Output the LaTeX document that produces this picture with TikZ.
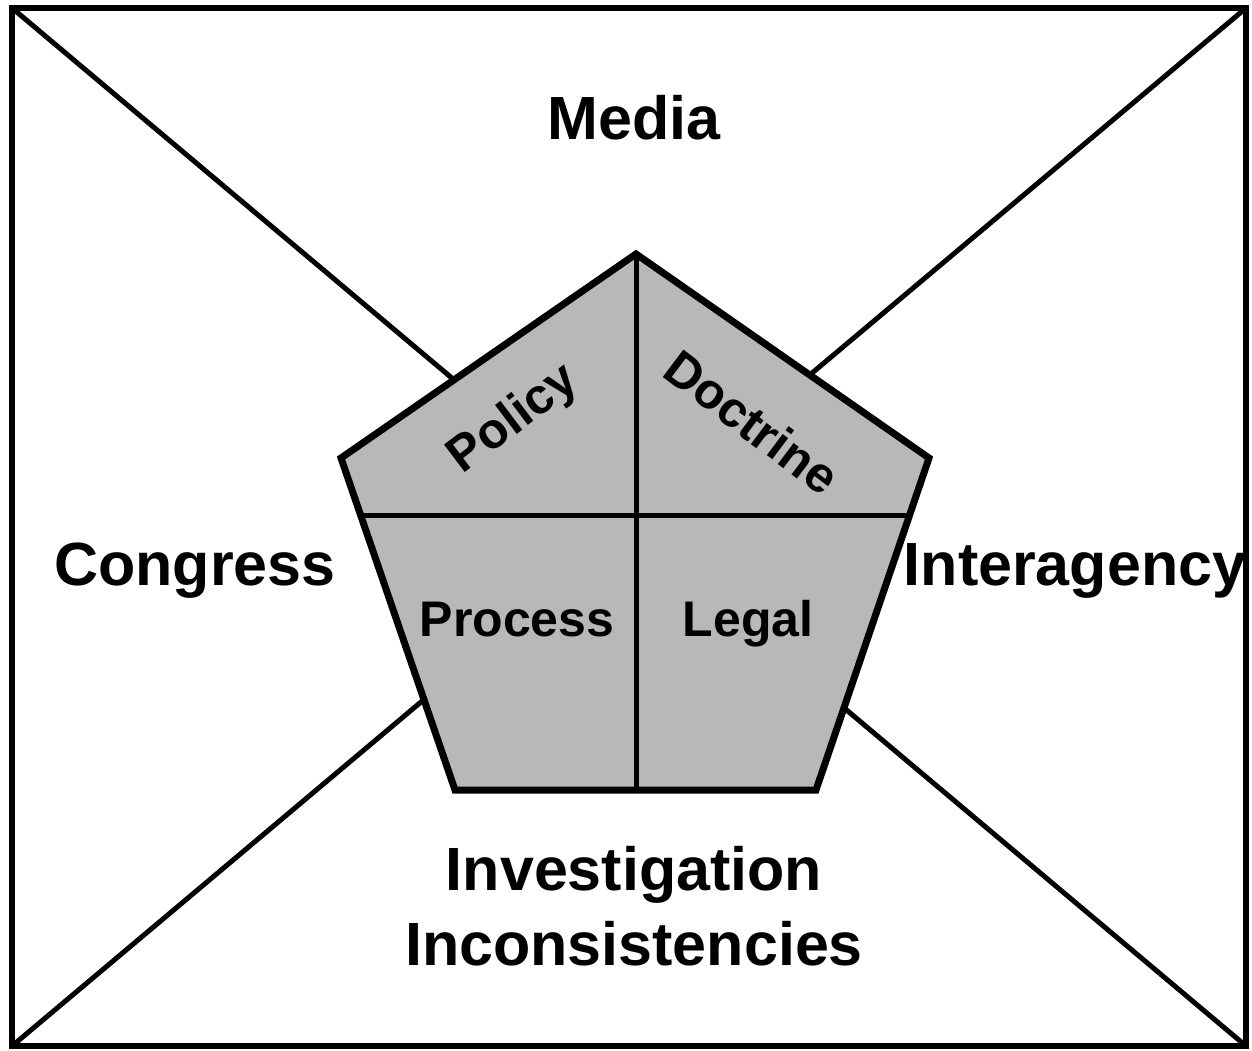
\documentclass[tikz,border=0pt]{standalone}
\usepackage{fontspec}
\setmainfont{Liberation Sans}
\begin{document}
\begin{tikzpicture}[x=1pt,y=-1pt,
  frame/.style={line width=6pt,line join=miter},
  diag/.style={line width=5pt},
  penta/.style={line width=7pt,fill=black!28,line join=miter},
  divider/.style={line width=5pt},
  big/.style={font=\fontsize{61}{72}\selectfont\bfseries,inner sep=0pt},
  small/.style={font=\fontsize{50}{60}\selectfont\bfseries,inner sep=0pt}]
\useasboundingbox (0,0) rectangle (1252,1051);
% frame corners
\coordinate (tl) at (12,8);
\coordinate (tr) at (1246,8);
\coordinate (br) at (1246,1046);
\coordinate (bl) at (12,1046);
\draw[diag] (tl) -- (br);
\draw[diag] (tr) -- (bl);
\draw[frame] (tl) -- (tr) -- (br) -- (bl) -- cycle;
% pentagon
\coordinate (T) at (636,254);
\coordinate (UL) at (341,458);
\coordinate (UR) at (929,458);
\coordinate (LR) at (816,790);
\coordinate (LL) at (455,790);
\coordinate (ML) at (360.6,515);
\coordinate (MR) at (909.6,515);
\coordinate (B) at (636,790);
\draw[penta] (T) -- (UR) -- (LR) -- (LL) -- (UL) -- cycle;
\draw[divider] (ML) -- (MR);
\draw[divider] (T) -- (B);
% labels
\node[big,anchor=base] (media) at (634,140) {Media};
\node[big,anchor=base] (congress) at (195,585) {Congress};
\node[big,anchor=base] (inter) at (1075,585) {Interagency};
\node[big,anchor=base] (inv) at (634,890) {Investigation};
\node[big,anchor=base] (inc) at (634,965) {Inconsistencies};
\node[small,anchor=base] (process) at (517,636) {Process};
\node[small,anchor=base] (legal) at (748,636) {Legal};
\node[small,rotate=37] (policy) at (514,420) {Policy};
\node[small,rotate=-37] (doctrine) at (752,422) {Doctrine};
\end{tikzpicture}
\end{document}
